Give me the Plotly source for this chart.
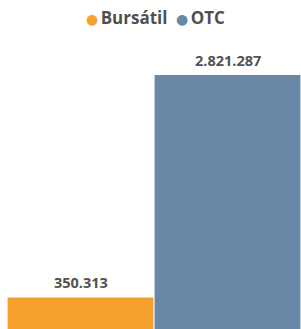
import plotly.graph_objects as go

categories = ["Bursátil", "OTC"]
values = [350313, 2821287]
colors = ["#F6A12F", "#6888A5"]
labels = ["350.313", "2.821.287"]

fig = go.Figure()
for cat, val, col in zip(categories, values, colors):
    fig.add_trace(go.Bar(
        x=[cat], y=[val], marker=dict(color=col, line=dict(width=0)),
        showlegend=False, hoverinfo="skip",
    ))
    fig.add_trace(go.Scatter(
        x=[None], y=[None], mode="markers",
        name=(f"<span style='color:{col};font-family:DejaVu Sans;font-size:14px'>●</span>"
              f"<span style='font-size:9px'> </span>{cat}"),
        marker=dict(symbol="circle", size=0, color="rgba(0,0,0,0)", opacity=0),
    ))

for cat, val, lab in zip(categories, values, labels):
    fig.add_annotation(
        x=cat, y=val, text=lab, showarrow=False, yanchor="bottom", yshift=3,
        font=dict(family="Open Sans", size=14.5, color="#525252", weight="bold"),
    )

fig.update_layout(
    width=301, height=329,
    margin=dict(l=7, r=0, t=40, b=0),
    paper_bgcolor="white", plot_bgcolor="white",
    separators=",.",
    barmode="overlay", bargap=0.008,
    showlegend=True,
    legend=dict(orientation="h", x=0.439, xanchor="center", y=1 - 18 / 329,
                yanchor="middle", yref="container",
                font=dict(family="Open Sans", size=17, color="#505050", weight="bold"),
                itemwidth=30, tracegroupgap=0, entrywidth=45),
    xaxis=dict(visible=False, type="category", range=[-0.5, 1.5]),
    yaxis=dict(visible=False, range=[0, 3210000]),
)
fig.write_html("out.html", post_script="document.body.style.margin='0';",
               config={"displayModeBar": False})
